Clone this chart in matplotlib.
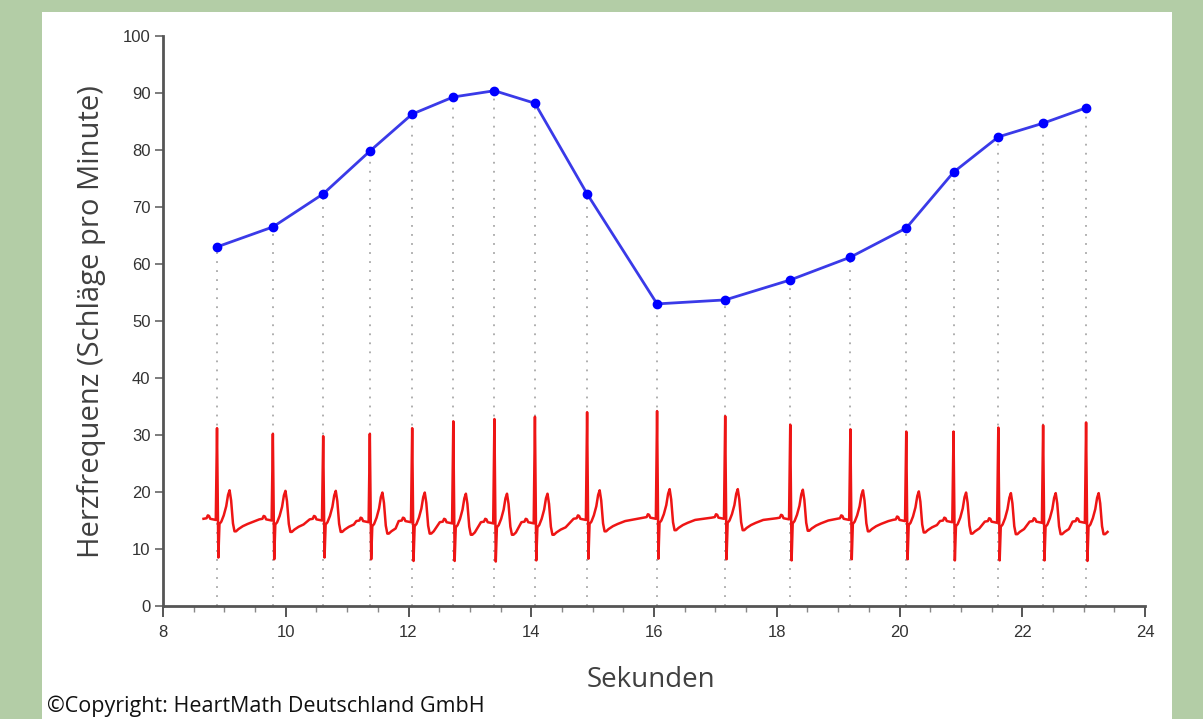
import matplotlib
matplotlib.use("Agg")
import matplotlib.pyplot as plt
from matplotlib.patches import Rectangle
from matplotlib.ticker import MultipleLocator

# beat times (s) and heart rate
beat_times = [8.88, 9.79, 10.61, 11.37, 12.06, 12.73, 13.40, 14.06, 14.91,
              16.05, 17.16, 18.22, 19.20, 20.11, 20.88, 21.61, 22.34, 23.04]
heart_rate = [63.0, 66.5, 72.3, 79.8, 86.3, 89.3, 90.4, 88.2, 72.3,
              53.0, 53.7, 57.2, 61.2, 66.3, 76.1, 82.3, 84.7, 87.4]

# ECG: per beat R peak, S trough and baseline level
r_peaks = [31.2, 30.2, 29.8, 30.2, 31.2, 32.4, 32.8, 33.2, 34.0,
           34.2, 33.3, 31.8, 31.0, 30.6, 30.6, 31.3, 31.7, 32.2]
s_troughs = [8.5, 8.2, 8.5, 8.2, 7.9, 7.9, 7.8, 8.0, 8.3,
             8.3, 8.2, 8.0, 8.2, 8.2, 8.0, 8.0, 8.0, 7.9]
baselines = [15.3, 15.2, 15.2, 14.9, 14.9, 14.7, 14.7, 14.7, 15.3,
             15.5, 15.5, 15.4, 15.3, 15.1, 14.9, 14.8, 14.8, 14.8]

# one beat: offset from R (s), level above baseline
# "R" / "S" mark the R peak and the S trough
beat_offsets = [-0.22, -0.17, -0.15, -0.13, -0.11, -0.02, 0.0, 0.022, 0.04,
                0.07, 0.11, 0.15, 0.18, 0.205, 0.23, 0.26, 0.285, 0.31,
                0.35, 0.42, 0.50, 0.62]
beat_levels = [0.0, 0.1, 0.6, 0.5, 0.0, -0.2, "R", "S", -0.9,
               -0.5, 0.6, 2.2, 4.2, 5.0, 3.2, -0.8, -2.2, -2.2,
               -1.8, -1.3, -0.9, -0.4]

x_ticks = [8, 10, 12, 14, 16, 18, 20, 22, 24]
y_ticks = [0, 10, 20, 30, 40, 50, 60, 70, 80, 90, 100]


def ecg_trace():
    xs, ys = [], []
    for i, t in enumerate(beat_times):
        nxt = beat_times[i + 1] if i + 1 < len(beat_times) else 99
        for off, lev in zip(beat_offsets, beat_levels):
            if off > 0.32 and t + off > nxt - 0.26:
                continue
            if i == len(beat_times) - 1 and off > 0.40:
                continue
            xs.append(t + off)
            if lev == "R":
                ys.append(r_peaks[i])
            elif lev == "S":
                ys.append(s_troughs[i])
            else:
                ys.append(baselines[i] + lev)
    return xs, ys


def main():
    fig = plt.figure(figsize=(12.03, 7.19), dpi=100)
    fig.patch.set_facecolor("#b3cda6")
    fig.patches.append(Rectangle((42 / 1203, 0), 1130 / 1203, 707 / 719,
                                 transform=fig.transFigure,
                                 facecolor="white", edgecolor="none",
                                 zorder=-5))

    ax = fig.add_axes([163 / 1203, 1 - 606 / 719,
                       982 / 1203, 570 / 719])
    ax.set_zorder(2)
    ax.set_facecolor("none")

    # dotted guides from axis up to each heart rate point
    ax.vlines(beat_times, 0, heart_rate, colors="#a8a8a8",
              linestyles=(0, (1, 4)), linewidth=1.3, zorder=1)

    xs, ys = ecg_trace()
    ax.plot(xs, ys, color="#ee1515", linewidth=1.8, zorder=2,
            solid_joinstyle="round")

    ax.plot(beat_times, heart_rate, color="#3a3ae8", linewidth=2.0,
            marker="o", markersize=6, markerfacecolor="#0000ff",
            markeredgecolor="#0000ff", zorder=3)

    ax.set_xlim(8, 24)
    ax.set_ylim(0, 100)
    ax.set_xticks(x_ticks)
    ax.set_yticks(y_ticks)
    ax.xaxis.set_minor_locator(MultipleLocator(0.5))

    for side in ["top", "right"]:
        ax.spines[side].set_visible(False)
    for side in ["left", "bottom"]:
        ax.spines[side].set_color("#555555")
        ax.spines[side].set_linewidth(2)

    ax.tick_params(axis="y", length=6, width=1.2, color="#666666",
                   labelsize=12, labelcolor="#333333", pad=3)
    ax.tick_params(axis="x", which="major", length=8, width=1.4,
                   color="#555555", labelsize=12, labelcolor="#333333",
                   pad=6)
    ax.tick_params(axis="x", which="minor", length=4, width=1,
                   color="#888888")
    for lbl in ax.get_xticklabels() + ax.get_yticklabels():
        lbl.set_family("Liberation Sans")

    fig.text(92 / 1203, 1 - 322 / 719,
             "Herzfrequenz (Schläge pro Minute)", rotation=90,
             ha="center", va="center", fontsize=21, color="#404040",
             family="Open Sans")
    fig.text(651 / 1203, 1 - 680 / 719, "Sekunden", ha="center",
             va="center", fontsize=20, color="#404040", family="Open Sans")
    fig.text(47 / 1203, 1 - 706 / 719,
             "©Copyright: HeartMath Deutschland GmbH", ha="left",
             va="center", fontsize=15.5, color="#111111", family="Open Sans")

    fig.savefig("out.png", dpi=100)


if __name__ == "__main__":
    main()
